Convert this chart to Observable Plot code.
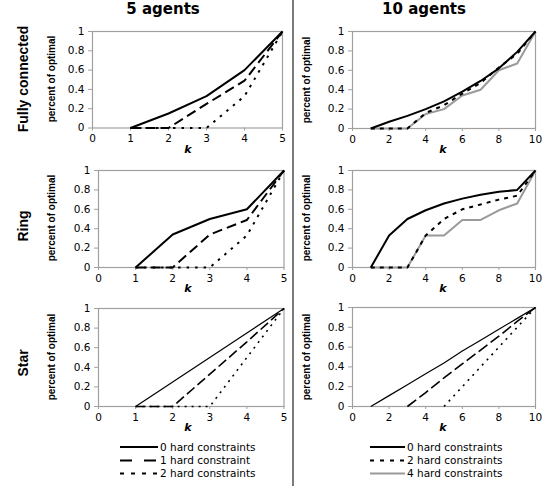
<!DOCTYPE html>
<html>
<head>
<meta charset="utf-8">
<script src="https://cdn.jsdelivr.net/npm/d3@7"></script>
<script src="https://cdn.jsdelivr.net/npm/@observablehq/plot@0.6"></script>
<style>
  html, body { margin: 0; padding: 0; background: #fff; }
  #root { position: relative; width: 551px; height: 486px; overflow: hidden; font-family: "DejaVu Sans", Verdana, sans-serif; }
  .abs { position: absolute; white-space: nowrap; line-height: 1; }
  .rot { transform: translate(-50%, -50%) rotate(-90deg); }
  .ctr { transform: translate(-50%, -50%); }
  .row { font-family: "Liberation Sans", Arial, sans-serif; font-weight: bold; font-size: 14px; }
  .ylab { font-family: "Liberation Sans", Arial, sans-serif; font-weight: bold; font-size: 10px; }
  .col { font-weight: bold; font-size: 15px; }
  .klab { font-weight: bold; font-style: italic; font-size: 11px; }
</style>
</head>
<body>
<div id="root"></div>
<script>
// ---- data ----
const columnTitles = ["5 agents", "10 agents"];
const rowTitles = ["Fully connected", "Ring", "Star"];
const yLabel = "percent of optimal";
const xLabel = "k";
const yTicks = [0, 0.2, 0.4, 0.6, 0.8, 1];
const xTicks5 = [0, 1, 2, 3, 4, 5];
const xTicks10 = [0, 2, 4, 6, 8, 10];
const k5 = [1, 2, 3, 4, 5];
const k10 = [1, 2, 3, 4, 5, 6, 7, 8, 9, 10];
const legend5 = ["0 hard constraints", "1 hard constraint", "2 hard constraints"];
const legend10 = ["0 hard constraints", "2 hard constraints", "4 hard constraints"];

// 5 agents
const fc5_h0 = [0, 0.15, 0.33, 0.6, 1];
const fc5_h1 = [0, 0, 0.25, 0.49, 1];
const fc5_h2 = [0, 0, 0, 0.33, 1];
const ring5_h0 = [0, 0.34, 0.5, 0.6, 1];
const ring5_h1 = [0, 0, 0.34, 0.49, 1];
const ring5_h2 = [0, 0, 0, 0.33, 1];
const star5_h0 = [0, 0.25, 0.5, 0.75, 1];
const star5_h1 = [0, 0, 0.33, 0.66, 1];
const star5_h2 = [0, 0, 0, 0.5, 1];

// 10 agents
const fc10_h0 = [0, 0.07, 0.13, 0.2, 0.28, 0.38, 0.49, 0.62, 0.79, 1];
const fc10_h2 = [0, 0, 0, 0.16, 0.24, 0.36, 0.47, 0.63, 0.77, 1];
const fc10_h4 = [0, 0, 0, 0.15, 0.2, 0.34, 0.4, 0.6, 0.67, 1];
const ring10_h0 = [0, 0.33, 0.5, 0.59, 0.66, 0.71, 0.75, 0.78, 0.8, 1];
const ring10_h2 = [0, 0, 0, 0.33, 0.5, 0.6, 0.65, 0.7, 0.74, 1];
const ring10_h4 = [0, 0, 0, 0.33, 0.33, 0.49, 0.49, 0.59, 0.66, 1];
const star10_h0 = [0, 0.11, 0.22, 0.33, 0.44, 0.56, 0.67, 0.78, 0.89, 1];
const star10_h2 = [null, null, 0, 0.14, 0.29, 0.43, 0.57, 0.71, 0.86, 1];
const star10_h4 = [null, null, null, null, 0, 0.2, 0.4, 0.6, 0.8, 1];

// ---- styles (not data) ----
const sty5 = [
  {stroke: "#000", w: 2, dash: null},
  {stroke: "#000", w: 2, dash: "10,5"},
  {stroke: "#000", w: 2, dash: "2.5,6"}
];
const sty10 = [
  {stroke: "#000", w: 2, dash: null},
  {stroke: "#000", w: 2, dash: "4,5"},
  {stroke: "#9a9a9a", w: 2, dash: null}
];
const styStar5 = [
  {stroke: "#000", w: 1.2, dash: null},
  {stroke: "#000", w: 1.6, dash: "10,4"},
  {stroke: "#000", w: 1.6, dash: "2,5"}
];
const styStar10 = [
  {stroke: "#000", w: 1.2, dash: null},
  {stroke: "#000", w: 1.6, dash: "11,4"},
  {stroke: "#000", w: 1.6, dash: "2,5"}
];

const panels = [
  {ks: k5, series: [fc5_h0, fc5_h1, fc5_h2], sty: sty5, xTicks: xTicks5, xmax: 5, f: [92, 31, 282, 127.5], order: [2, 1, 0]},
  {ks: k10, series: [fc10_h0, fc10_h2, fc10_h4], sty: sty10, xTicks: xTicks10, xmax: 10, f: [352, 31, 535, 128], order: [2, 1, 0]},
  {ks: k5, series: [ring5_h0, ring5_h1, ring5_h2], sty: sty5, xTicks: xTicks5, xmax: 5, f: [97.5, 169.5, 283, 266.5], order: [2, 1, 0]},
  {ks: k10, series: [ring10_h0, ring10_h2, ring10_h4], sty: sty10, xTicks: xTicks10, xmax: 10, f: [352, 169.5, 535, 266.5], order: [2, 1, 0]},
  {ks: k5, series: [star5_h0, star5_h1, star5_h2], sty: styStar5, xTicks: xTicks5, xmax: 5, f: [97.5, 308, 283, 406], order: [2, 1, 0]},
  {ks: k10, series: [star10_h0, star10_h2, star10_h4], sty: styStar10, xTicks: xTicks10, xmax: 10, f: [352, 307, 535, 406], order: [2, 1, 0]}
];

const root = document.getElementById("root");
const ML = 36, MR = 8, MT = 6, MB = 24;
const fmt = d => String(+d.toFixed(1));

function addText(txt, cls, x, y) {
  const d = document.createElement("div");
  d.className = "abs " + cls;
  d.textContent = txt;
  d.style.left = x + "px";
  d.style.top = y + "px";
  root.appendChild(d);
  return d;
}

panels.forEach((p, idx) => {
  const [x0, y0, x1, y1] = p.f;
  const W = x1 - x0, H = y1 - y0;
  const marks = [];
  p.order.forEach(si => {
    const s = p.sty[si];
    const data = p.ks.map((k, i) => ({k, v: p.series[si][i]}));
    marks.push(Plot.line(data, {
      x: "k", y: "v", stroke: s.stroke, strokeWidth: s.w,
      strokeDasharray: s.dash || undefined, strokeLinejoin: "miter", strokeLinecap: "butt"
    }));
  });
  const chart = Plot.plot({
    width: W + ML + MR,
    height: H + MT + MB,
    marginLeft: ML, marginRight: MR, marginTop: MT, marginBottom: MB,
    style: {fontFamily: "'DejaVu Sans', Verdana, sans-serif", fontSize: "10.5px", background: "transparent", overflow: "visible", color: "#000"},
    x: {domain: [0, p.xmax], axis: null},
    y: {domain: [0, 1], axis: null},
    marks: [
      Plot.frame({stroke: "#a0a0a0", strokeWidth: 1.2}),
      Plot.axisY({ticks: yTicks, tickSize: 4, tickPadding: 4, stroke: "#a0a0a0", fill: "#000", tickFormat: fmt, label: null}),
      Plot.axisX({ticks: p.xTicks, tickSize: 3, tickPadding: 4, stroke: "#a0a0a0", fill: "#000", tickFormat: fmt, label: null}),
      ...marks
    ]
  });
  chart.style.position = "absolute";
  chart.style.left = (x0 - ML) + "px";
  chart.style.top = (y0 - MT) + "px";
  root.appendChild(chart);

  const col = idx % 2;
  addText(yLabel, "ylab rot", col === 0 ? 52 : 307, (y0 + y1) / 2);
  addText(xLabel, "klab ctr", col === 0 ? 188 : 443, y1 + 21);
});

addText(columnTitles[0], "col ctr", 163, 9);
addText(columnTitles[1], "col ctr", 424, 9);
addText(rowTitles[0], "row rot", 23, 79);
addText(rowTitles[1], "row rot", 23, 226);
addText(rowTitles[2], "row rot", 23, 363);

const div = document.createElement("div");
div.className = "abs";
Object.assign(div.style, {left: "291.5px", top: "0px", width: "2px", height: "486px", background: "#7a7a7a"});
root.appendChild(div);

function legend(labels, styles, lx0, lx1, tx) {
  const ys = [447, 460.5, 473.5];
  const ns = "http://www.w3.org/2000/svg";
  const svg = document.createElementNS(ns, "svg");
  svg.setAttribute("width", 551); svg.setAttribute("height", 486);
  svg.style.position = "absolute"; svg.style.left = "0"; svg.style.top = "0";
  labels.forEach((lab, i) => {
    const s = styles[i];
    const ln = document.createElementNS(ns, "line");
    ln.setAttribute("x1", lx0); ln.setAttribute("x2", lx1);
    ln.setAttribute("y1", ys[i]); ln.setAttribute("y2", ys[i]);
    ln.setAttribute("stroke", s.stroke); ln.setAttribute("stroke-width", s.w);
    if (s.dash) ln.setAttribute("stroke-dasharray", s.dash);
    svg.appendChild(ln);
    const t = document.createElementNS(ns, "text");
    t.setAttribute("x", tx); t.setAttribute("y", ys[i]);
    t.setAttribute("dy", "0.35em");
    t.setAttribute("font-size", "10.5px");
    t.setAttribute("font-family", "'DejaVu Sans', Verdana, sans-serif");
    t.textContent = lab;
    svg.appendChild(t);
  });
  root.appendChild(svg);
}
legend(legend5, [
  {stroke: "#000", w: 2, dash: null},
  {stroke: "#000", w: 2, dash: "12,12"},
  {stroke: "#000", w: 2, dash: "4,7"}
], 120, 158, 160);
legend(legend10, [
  {stroke: "#000", w: 2, dash: null},
  {stroke: "#000", w: 2, dash: "4,6"},
  {stroke: "#9a9a9a", w: 2, dash: null}
], 370, 405, 407);
</script>
</body>
</html>
